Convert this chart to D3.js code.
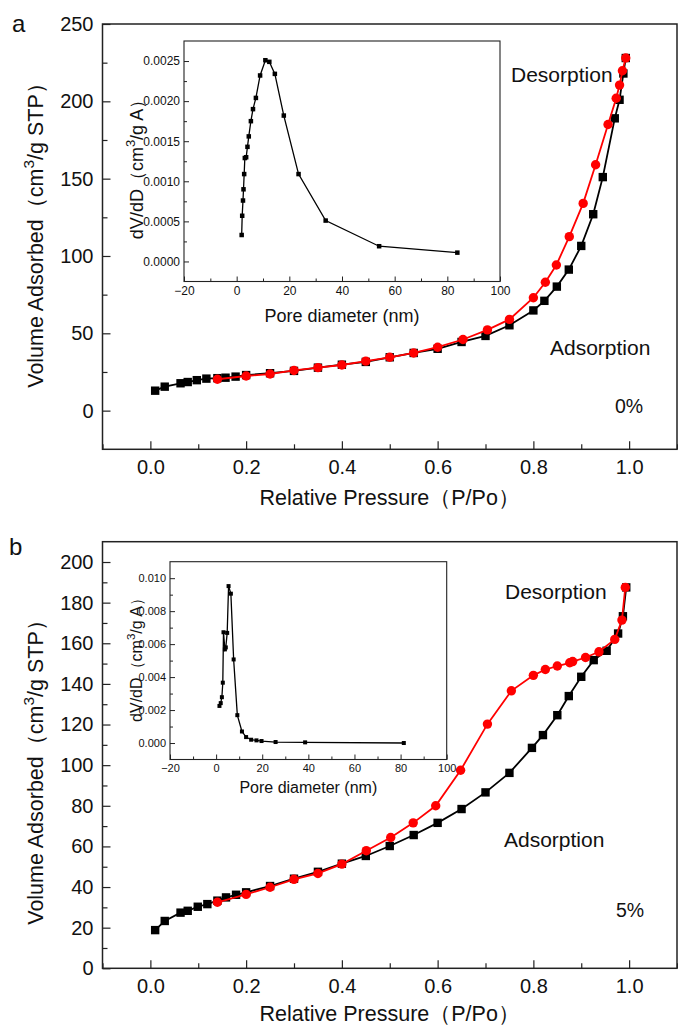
<!DOCTYPE html>
<html><head><meta charset="utf-8">
<script src="https://cdn.jsdelivr.net/npm/d3@7"></script>
<style>body{margin:0;background:#fff} svg{display:block}</style>
</head><body><svg id="c" width="678" height="1027"></svg>
<script>
// ---------- Panel a (0%) ----------
const aAdsP = [0.01,0.03,0.063,0.078,0.097,0.117,0.14,0.157,0.178,0.2,0.25,0.3,0.35,0.4,0.45,0.5,0.55,0.6,0.65,0.7,0.75,0.8,0.823,0.849,0.874,0.9,0.925,0.945,0.97,0.98,0.988,0.993];
const aAdsV = [12.9,15.5,17.7,18.5,19.7,20.7,21.0,21.3,22,23,24.2,25.7,27.8,29.7,31.5,34.5,37.3,40,44.4,48.3,55.2,64.8,71,80.2,91.2,106.5,127,151,189,201,218,228];
const aDesP = [0.14,0.2,0.25,0.3,0.35,0.4,0.45,0.5,0.55,0.6,0.653,0.704,0.75,0.8,0.825,0.848,0.875,0.904,0.93,0.956,0.973,0.98,0.986,0.993];
const aDesV = [20.3,22.4,23.7,26,27.8,29.5,32,34.5,37.3,41,46,52.2,59,73,83,94.2,112.5,134,159,185,202,210.5,219.8,228];
const aPoreD  = [1.9,2.1,2.4,2.6,2.85,3.1,3.6,4.1,4.6,5.4,6.2,7.3,8.9,10.9,12.4,14.5,17.9,23.5,33.8,54.1,83.8];
const aPoreDV = [0.00033,0.00057,0.00076,0.0009,0.00109,0.00129,0.0013,0.00143,0.00156,0.00175,0.0019,0.00204,0.00232,0.00251,0.00249,0.00234,0.00182,0.00109,0.00051,0.00019,0.00011];

// ---------- Panel b (5%) ----------
const bAdsP = [0.01,0.03,0.063,0.078,0.099,0.119,0.14,0.158,0.179,0.2,0.25,0.3,0.35,0.4,0.45,0.5,0.55,0.6,0.65,0.7,0.75,0.797,0.82,0.85,0.874,0.9,0.926,0.953,0.977,0.987,0.994];
const bAdsV = [18.8,23.3,27.4,28.3,30.3,31.6,33.3,34.9,36.2,37.4,40.5,44.1,47.5,51.5,55.3,60.2,65.6,71.6,78.4,86.6,96.2,108.5,114.8,124.6,134,143.5,151.7,156.3,164.8,173.3,187.5];
const bDesP = [0.14,0.2,0.25,0.3,0.35,0.4,0.451,0.502,0.549,0.596,0.648,0.704,0.754,0.8,0.825,0.85,0.876,0.882,0.909,0.937,0.97,0.985,0.992];
const bDesV = [32.5,36.4,39.9,43.8,46.7,51.3,57.9,64.4,71.6,80,97.5,120.2,136.6,144.2,147.1,148.8,150.4,151,153,155.8,161.9,171.4,187.5];
const bPoreD  = [1.45,2.0,2.5,2.9,3.2,3.8,4.2,4.8,5.4,6.4,7.6,9.2,11.2,13.0,15.2,17.5,19.7,25.8,38.6,81.4];
const bPoreDV = [0.00225,0.00242,0.00278,0.00366,0.00672,0.00568,0.0058,0.00668,0.00952,0.00906,0.00507,0.00169,0.0007,0.00036,0.0002,0.00016,0.00012,0.00006,0.00004,0.0];

// ---------- Ticks ----------
const mainXTicks = [0,0.2,0.4,0.6,0.8,1.0];
const mainXMinor = [-0.1,0.1,0.3,0.5,0.7,0.9,1.1];
const aYTicks = [0,50,100,150,200,250];
const aYMinor = [25,75,125,175,225];
const bYTicks = [0,20,40,60,80,100,120,140,160,180,200];
const bYMinor = [10,30,50,70,90,110,130,150,170,190];
const insetXTicks = [-20,0,20,40,60,80,100];
const insetXMinor = [-10,10,30,50,70,90];
const aInsetYTicks = [0,0.0005,0.001,0.0015,0.002,0.0025];
const aInsetYMinor = [0.00025,0.00075,0.00125,0.00175,0.00225];
const bInsetYTicks = [0,0.002,0.004,0.006,0.008,0.010];
const bInsetYMinor = [0.001,0.003,0.005,0.007,0.009];

const FONT = "Arial, 'Liberation Sans', Helvetica, sans-serif";
const svg = d3.select("#c");
svg.append("rect").attr("width",678).attr("height",1027).attr("fill","#fff");

function zip(a,b){ return a.map((v,i)=>[v,b[i]]); }

function drawAxes(g, xs, ys, box, o){
  const styleAxis = sel => {
    sel.select(".domain").remove();
    sel.selectAll("line").attr("stroke","#222").attr("stroke-width",o.tw);
    sel.selectAll("text").attr("font-family",FONT).attr("font-size",o.fs).attr("fill","#111");
  };
  g.append("g").attr("transform",`translate(0,${box.y1})`)
    .call(d3.axisBottom(xs).tickValues(o.xTicks).tickSize(-o.tl).tickPadding(o.xpad).tickFormat(o.xFmt)).call(styleAxis);
  g.append("g").attr("transform",`translate(0,${box.y1})`)
    .call(d3.axisBottom(xs).tickValues(o.xMinor).tickSize(-o.tm).tickFormat("")).call(styleAxis);
  g.append("g").attr("transform",`translate(${box.x0},0)`)
    .call(d3.axisLeft(ys).tickValues(o.yTicks).tickSize(-o.tl).tickPadding(o.ypad).tickFormat(o.yFmt)).call(styleAxis);
  g.append("g").attr("transform",`translate(${box.x0},0)`)
    .call(d3.axisLeft(ys).tickValues(o.yMinor).tickSize(-o.tm).tickFormat("")).call(styleAxis);
  g.append("rect").attr("x",box.x0).attr("y",box.y0).attr("width",box.x1-box.x0).attr("height",box.y1-box.y0)
    .attr("fill","none").attr("stroke","#222").attr("stroke-width",o.fw);
}

function rotLabel(g, x, y, parts, fs){
  const t = g.append("text").attr("transform",`translate(${x},${y}) rotate(-90)`)
    .attr("text-anchor","middle").attr("font-family",FONT).attr("font-size",fs).attr("fill","#111");
  parts.forEach(p=>{
    const ts = t.append("tspan").text(p.t);
    if(p.sup){ ts.attr("font-size",fs*0.72).attr("dy",-fs*0.42); }
    if(p.after){ ts.attr("dy",fs*0.42); }
  });
}

function drawPanel(P){
  const g = svg.append("g");
  const b = P.box;
  const xs = d3.scaleLinear().domain([-0.1,1.1]).range([b.x0,b.x1]);
  const ys = d3.scaleLinear().domain(P.yDom).range([b.y1,b.y0]);
  drawAxes(g, xs, ys, b, {xTicks:mainXTicks, xMinor:mainXMinor, yTicks:P.yTicks, yMinor:P.yMinor,
    xFmt:d3.format(".1f"), yFmt:d3.format("d"), tl:8, tm:5, xpad:11, ypad:9, fs:20, tw:1.2, fw:1.5});

  const line = d3.line().x(d=>xs(d[0])).y(d=>ys(d[1]));
  const ads = zip(P.adsP,P.adsV), des = zip(P.desP,P.desV);
  g.append("path").datum(ads).attr("d",line).attr("fill","none").attr("stroke","#000").attr("stroke-width",1.8);
  g.selectAll(null).data(ads).enter().append("rect")
    .attr("x",d=>xs(d[0])-4.2).attr("y",d=>ys(d[1])-4.2).attr("width",8.4).attr("height",8.4).attr("fill","#000");
  g.append("path").datum(des).attr("d",line).attr("fill","none").attr("stroke","#ff0000").attr("stroke-width",1.8);
  g.selectAll(null).data(des).enter().append("circle")
    .attr("cx",d=>xs(d[0])).attr("cy",d=>ys(d[1])).attr("r",4.7).attr("fill","#ff0000");

  // texts
  const tx = (x,y,s,fs,anchor)=>g.append("text").attr("x",x).attr("y",y).attr("font-family",FONT)
    .attr("font-size",fs).attr("fill","#111").attr("text-anchor",anchor||"start").text(s);
  tx(P.letter.x,P.letter.y,P.letter.t,24);
  tx(P.des.x,P.des.y,"Desorption",21);
  tx(P.ads.x,P.ads.y,"Adsorption",21);
  tx(P.pct.x,P.pct.y,P.pct.t,19.5);
  tx((b.x0+b.x1)/2, P.xlabY, "Relative Pressure（P/Po）", 21.5, "middle");
  rotLabel(g, 43, P.ylabC, [{t:"Volume Adsorbed（cm"},{t:"3",sup:true},{t:"/g STP）",after:true}], 21.5);

  // inset
  const I = P.inset, ib = I.box;
  const ig = svg.append("g");
  ig.append("rect").attr("x",ib.x0).attr("y",ib.y0).attr("width",ib.x1-ib.x0).attr("height",ib.y1-ib.y0).attr("fill","#fff");
  const ixs = d3.scaleLinear().domain([-20,100]).range([ib.x0,ib.x1]);
  const iys = d3.scaleLinear().domain(I.yDom).range([ib.y1,ib.y0]);
  drawAxes(ig, ixs, iys, ib, {xTicks:insetXTicks, xMinor:insetXMinor, yTicks:I.yTicks, yMinor:I.yMinor,
    xFmt:d3.format("d"), yFmt:d3.format(I.yFmt), tl:5, tm:3, xpad:I.xpad, ypad:4, fs:I.fs, tw:1, fw:1.1});
  const il = d3.line().x(d=>ixs(d[0])).y(d=>iys(d[1]));
  const pd = zip(I.D,I.V);
  ig.append("path").datum(pd).attr("d",il).attr("fill","none").attr("stroke","#000").attr("stroke-width",1.3);
  ig.selectAll(null).data(pd).enter().append("rect")
    .attr("x",d=>ixs(d[0])-I.ms/2).attr("y",d=>iys(d[1])-I.ms/2).attr("width",I.ms).attr("height",I.ms).attr("fill","#000");
  ig.append("text").attr("x",(ib.x0+ib.x1)/2).attr("y",I.xlabY).attr("text-anchor","middle")
    .attr("font-family",FONT).attr("font-size",I.lfs).attr("fill","#111").text("Pore diameter (nm)");
  rotLabel(ig, I.ylabX, I.ylabC, [{t:"dV/dD（cm"},{t:"3",sup:true},{t:"/g A）",after:true}], I.yfs);
}

drawPanel({
  box:{x0:102.5,x1:677,y0:24,y1:449.3}, yDom:[-25,250], yTicks:aYTicks, yMinor:aYMinor,
  adsP:aAdsP, adsV:aAdsV, desP:aDesP, desV:aDesV,
  letter:{x:12,y:32,t:"a"}, des:{x:511,y:82}, ads:{x:550,y:355}, pct:{x:615,y:413,t:"0%"},
  xlabY:505, ylabC:230,
  inset:{box:{x0:184,x1:500,y0:41,y1:281.5}, yDom:[-0.00025,0.00275], yTicks:aInsetYTicks, yMinor:aInsetYMinor,
    yFmt:".4f", fs:12, xpad:5, D:aPoreD, V:aPoreDV, ms:4.5, xlabY:322, lfs:18, ylabX:143, ylabC:165, yfs:18}
});
drawPanel({
  box:{x0:102.5,x1:677,y0:541.7,y1:968.3}, yDom:[0,210], yTicks:bYTicks, yMinor:bYMinor,
  adsP:bAdsP, adsV:bAdsV, desP:bDesP, desV:bDesV,
  letter:{x:9,y:555,t:"b"}, des:{x:505,y:599}, ads:{x:504,y:847}, pct:{x:616,y:917,t:"5%"},
  xlabY:1021, ylabC:767,
  inset:{box:{x0:170,x1:446.7,y0:561.7,y1:759.5}, yDom:[-0.001,0.011], yTicks:bInsetYTicks, yMinor:bInsetYMinor,
    yFmt:".3f", fs:11, xpad:5, D:bPoreD, V:bPoreDV, ms:4, xlabY:793, lfs:16, ylabX:142, ylabC:656, yfs:16}
});
</script></body></html>
